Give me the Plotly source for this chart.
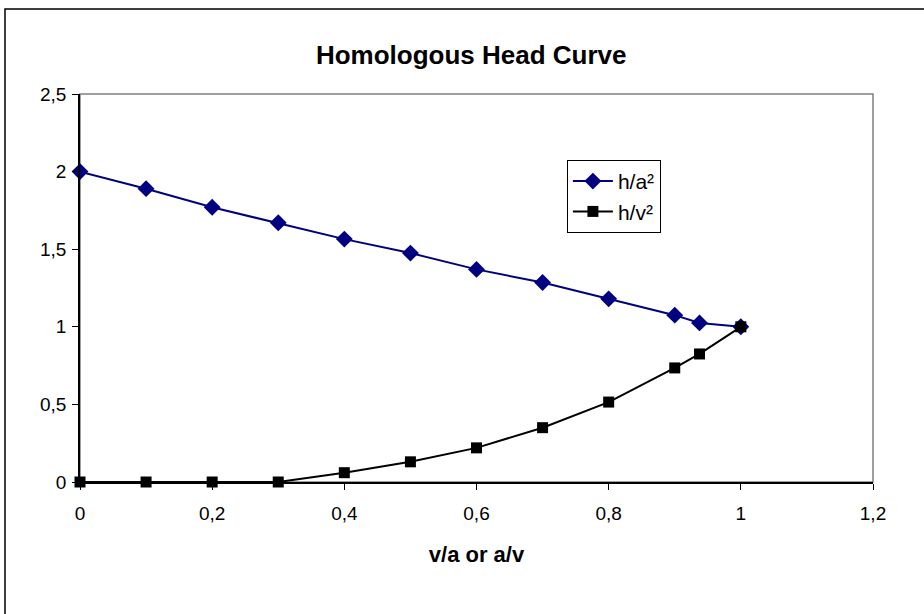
import plotly.graph_objects as go

# ratio on the x axis (v/a or a/v)
ratio = [0, 0.1, 0.2, 0.3, 0.4, 0.5, 0.6, 0.7, 0.8, 0.9, 0.9375, 1.0]

# head ratios
h_a2 = [2.0, 1.89, 1.77, 1.67, 1.565, 1.475, 1.37, 1.285, 1.18, 1.075, 1.025, 1.0]
h_v2 = [0, 0, 0, 0, 0.06, 0.13, 0.22, 0.35, 0.515, 0.735, 0.825, 1.0]

x_ticks = [0, 0.2, 0.4, 0.6, 0.8, 1.0, 1.2]
y_ticks = [0, 0.5, 1.0, 1.5, 2.0, 2.5]

font = "Liberation Sans, Arial, sans-serif"

fig = go.Figure()

fig.add_trace(go.Scatter(
    x=ratio, y=h_a2, name="h/a²", mode="lines+markers",
    line=dict(color="#000080", width=2),
    marker=dict(symbol="diamond", size=13, color="#000080"),
    cliponaxis=False,
))
fig.add_trace(go.Scatter(
    x=ratio, y=h_v2, name="h/v²", mode="lines+markers",
    line=dict(color="#000000", width=2),
    marker=dict(symbol="square", size=11, color="#000000"),
    cliponaxis=False,
))

axis_common = dict(
    showgrid=False, zeroline=False, showline=True, linecolor="#000000", linewidth=1.5,
    ticks="outside", ticklen=6, tickcolor="#000000", tickwidth=1,
    tickfont=dict(family=font, size=19, color="#000000"),
)

fig.update_xaxes(range=[0, 1.2], tickvals=x_ticks, ticklabelstandoff=7,
                 title=dict(text="<b>v/a or a/v</b>", font=dict(family=font, size=22, color="#000000"),
                            standoff=24),
                 **axis_common)
fig.update_yaxes(range=[0, 2.5], tickvals=y_ticks, ticklabelstandoff=2, **axis_common)

fig.update_layout(
    width=924, height=614,
    paper_bgcolor="white", plot_bgcolor="white",
    separators=", ",
    margin=dict(l=80, r=51, t=94, b=132),
    title=dict(text="<b>Homologous Head Curve</b>", x=0.51, xanchor="center",
               y=1 - 55 / 614, yanchor="middle",
               font=dict(family=font, size=26, color="#000000")),
    legend=dict(x=0.614, y=0.83, xanchor="left", yanchor="top",
                bgcolor="white", bordercolor="#000000", borderwidth=1,
                itemwidth=40,
                font=dict(family=font, size=21, color="#000000")),
    shapes=[
        # gray plot-area frame
        dict(type="rect", xref="paper", yref="paper", x0=0, x1=1, y0=0, y1=1,
             line=dict(color="#808080", width=1.5), layer="below"),
        # outer chart border (runs off the right and bottom edges)
        dict(type="rect", xref="paper", yref="paper",
             x0=-75 / 793, x1=1.2, y0=-0.5, y1=(482 - 9) / 388,
             line=dict(color="#000000", width=1.5), layer="below"),
    ],
)

fig.write_html("out.html", config={"displayModeBar": False},
               post_script="document.body.style.margin='0';document.body.style.overflow='hidden';")
